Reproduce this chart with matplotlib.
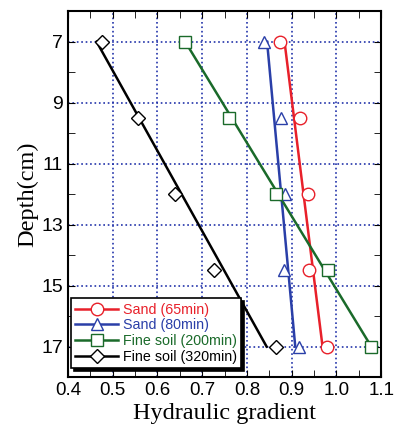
import numpy as np
import matplotlib.pyplot as plt
from matplotlib.ticker import MultipleLocator, FormatStrFormatter

depth = [7, 9.5, 12, 14.5, 17]

# measured points
sand65 = [0.875, 0.919, 0.936, 0.938, 0.978]
sand80 = [0.838, 0.877, 0.884, 0.882, 0.916]
fine200 = [0.662, 0.760, 0.866, 0.981, 1.078]
fine320 = [0.477, 0.556, 0.640, 0.727, 0.866]

# fitted lines (end points)
fit_depth = [7, 17]
fit_sand65 = [0.884, 0.969]
fit_sand80 = [0.845, 0.908]
fit_fine200 = [0.662, 1.078]
fit_fine320 = [0.464, 0.844]

labels = ['Sand (65min)', 'Sand (80min)', 'Fine soil (200min)', 'Fine soil (320min)']
colors = ['#e8202a', '#2a3fa8', '#1a6a2a', 'black']
markers = ['o', '^', 's', 'D']
msizes = [9, 9, 9, 7.5]

fig = plt.figure(figsize=(3.95, 4.3), dpi=100)
ax = fig.add_axes([0.172, 0.123, 0.793, 0.851])

series = [sand65, sand80, fine200, fine320]
fits = [fit_sand65, fit_sand80, fit_fine200, fit_fine320]
handles = []
for pts, fit, c, m, ms, lab in zip(series, fits, colors, markers, msizes, labels):
    ax.plot(fit, fit_depth, color=c, lw=1.8, zorder=3)
    ax.plot(pts, depth, ls='none', marker=m, ms=ms, mfc='white', mec=c, mew=1.0, zorder=4)
    h, = ax.plot([], [], color=c, lw=1.8, marker=m, ms=ms, mfc='white', mec=c, mew=1.0, label=lab)
    handles.append(h)

ax.set_xlim(0.4, 1.1)
ax.set_ylim(18, 6)
ax.xaxis.set_major_locator(MultipleLocator(0.1))
ax.xaxis.set_minor_locator(MultipleLocator(0.05))
ax.xaxis.set_major_formatter(FormatStrFormatter('%.1f'))
ax.set_yticks([7, 9, 11, 13, 15, 17])
ax.yaxis.set_minor_locator(MultipleLocator(1))
ax.tick_params(which='both', direction='in', top=True, right=True)
ax.tick_params(which='major', length=5, labelsize=14)
ax.tick_params(axis='x', labelsize=13.5)
ax.tick_params(which='minor', length=5)
ax.tick_params(axis='y', pad=3.5)
for t in ax.get_xticklabels() + ax.get_yticklabels():
    t.set_fontfamily('Liberation Sans')
ax.grid(True, which='major', color='#2233aa', ls=':', lw=1.2)
for s in ax.spines.values():
    s.set_linewidth(1.5)

ax.set_xlabel('Hydraulic gradient', fontfamily='Liberation Serif', fontsize=17.5, labelpad=3)
ax.set_ylabel('Depth(cm)', fontfamily='Liberation Serif', fontsize=17.5, labelpad=2)

leg = ax.legend(handles=handles, loc='upper left', bbox_to_anchor=(0.01, 0.215),
                fancybox=False, shadow={'color': 'black', 'alpha': 1}, framealpha=1,
                edgecolor='black', handlelength=3.0, handletextpad=0.3,
                labelspacing=0.12, borderpad=0.3, borderaxespad=0,
                prop={'family': 'Liberation Sans', 'size': 10.3})
leg.get_frame().set_linewidth(1.2)
for t, c in zip(leg.get_texts(), colors):
    t.set_color(c)

fig.savefig('out.png', dpi=100)
